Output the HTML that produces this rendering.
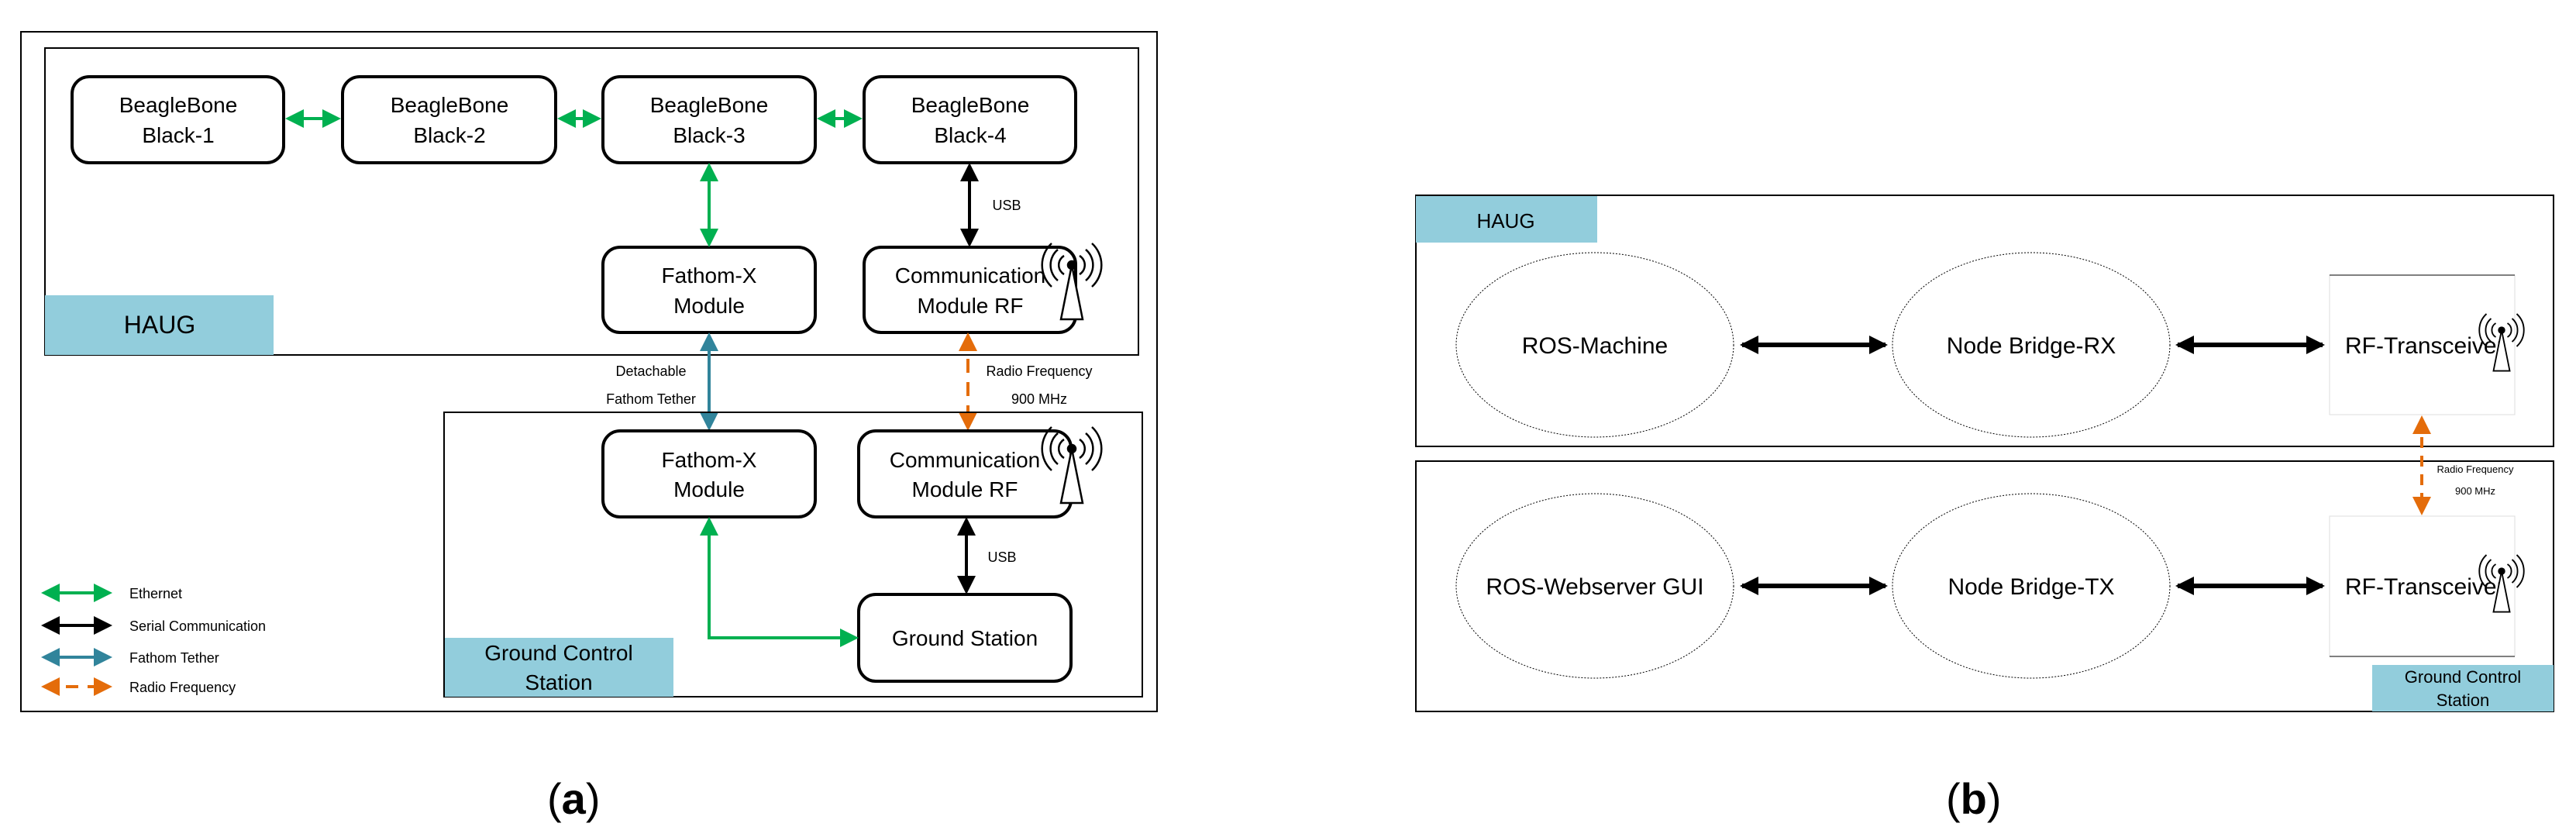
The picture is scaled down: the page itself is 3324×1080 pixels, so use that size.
<!DOCTYPE html>
<html><head><meta charset="utf-8"><style>
html,body{margin:0;padding:0;background:#fff}
svg{display:block}
text{font-family:"Liberation Sans",sans-serif;fill:#000}
</style></head><body>
<svg width="3324" height="1080" viewBox="0 0 3324 1080" xmlns="http://www.w3.org/2000/svg">
<defs>
<marker id="g" markerWidth="6" markerHeight="6" refX="5" refY="3" orient="auto-start-reverse" markerUnits="strokeWidth"><path d="M0,0L6,3L0,6z" fill="#00b050"/></marker>
<marker id="k" markerWidth="6" markerHeight="6" refX="5" refY="3" orient="auto-start-reverse" markerUnits="strokeWidth"><path d="M0,0L6,3L0,6z" fill="#000"/></marker>
<marker id="b" markerWidth="6" markerHeight="6" refX="5" refY="3" orient="auto-start-reverse" markerUnits="strokeWidth"><path d="M0,0L6,3L0,6z" fill="#31849b"/></marker>
<marker id="o" markerWidth="6" markerHeight="6" refX="5" refY="3" orient="auto-start-reverse" markerUnits="strokeWidth"><path d="M0,0L6,3L0,6z" fill="#e46c0a"/></marker>
<marker id="kb" markerWidth="4" markerHeight="4" refX="3.5" refY="2" orient="auto-start-reverse" markerUnits="strokeWidth"><path d="M0,0L4,2L0,4z" fill="#000"/></marker>
<g id="ant" fill="none" stroke="#000" stroke-width="2.5">
<path d="M-10,-12A14,14 0 0 0 -10,12M10,-12A14,14 0 0 1 10,12"/>
<path d="M-18,-20A26,26 0 0 0 -18,20M18,-20A26,26 0 0 1 18,20"/>
<path d="M-26,-28A38,38 0 0 0 -26,28M26,-28A38,38 0 0 1 26,28"/>
<circle cx="0" cy="0" r="5" fill="#000"/>
<path d="M0,0L-14,70L14,70Z" fill="#fff"/>
</g>
</defs>

<!-- Panel (a) -->
<rect x="27" y="41" width="1466" height="877" fill="none" stroke="#000" stroke-width="2"/>
<rect x="58" y="62" width="1411" height="396" fill="none" stroke="#000" stroke-width="2"/>
<rect x="58" y="381" width="295" height="77" fill="#92cddc"/>
<text x="206" y="430" font-size="32" text-anchor="middle">HAUG</text>

<g fill="#fff" stroke="#000" stroke-width="4">
<rect x="93" y="99" width="273" height="111" rx="22"/>
<rect x="442" y="99" width="275" height="111" rx="22"/>
<rect x="778" y="99" width="274" height="111" rx="22"/>
<rect x="1115" y="99" width="273" height="111" rx="22"/>
<rect x="778" y="319" width="274" height="110" rx="22"/>
<rect x="1115" y="319" width="273" height="110" rx="22"/>
</g>
<g font-size="28" text-anchor="middle">
<text x="230" y="145">BeagleBone</text><text x="230" y="184">Black-1</text>
<text x="580" y="145">BeagleBone</text><text x="580" y="184">Black-2</text>
<text x="915" y="145">BeagleBone</text><text x="915" y="184">Black-3</text>
<text x="1252" y="145">BeagleBone</text><text x="1252" y="184">Black-4</text>
<text x="915" y="365">Fathom-X</text><text x="915" y="404">Module</text>
<text x="1252" y="365">Communication</text><text x="1252" y="404">Module RF</text>
</g>
<use href="#ant" x="1383" y="342"/>

<g stroke-width="4" fill="none">
<line x1="372" y1="153" x2="436" y2="153" stroke="#00b050" marker-start="url(#g)" marker-end="url(#g)"/>
<line x1="723" y1="153" x2="772" y2="153" stroke="#00b050" marker-start="url(#g)" marker-end="url(#g)"/>
<line x1="1058" y1="153" x2="1109" y2="153" stroke="#00b050" marker-start="url(#g)" marker-end="url(#g)"/>
<line x1="915" y1="214" x2="915" y2="315" stroke="#00b050" marker-start="url(#g)" marker-end="url(#g)"/>
<line x1="1251" y1="214" x2="1251" y2="315" stroke="#000" marker-start="url(#k)" marker-end="url(#k)"/>
<line x1="915" y1="433" x2="915" y2="552" stroke="#31849b" marker-start="url(#b)" marker-end="url(#b)"/>
<line x1="1249" y1="433" x2="1249" y2="552" stroke="#e46c0a" stroke-dasharray="18,12" marker-start="url(#o)" marker-end="url(#o)"/>
</g>
<text x="1299" y="271" font-size="18" text-anchor="middle">USB</text>
<g font-size="18" text-anchor="middle">
<text x="840" y="485">Detachable</text><text x="840" y="521">Fathom Tether</text>
<text x="1341" y="485">Radio Frequency</text><text x="1341" y="521">900 MHz</text>
</g>

<rect x="573" y="532" width="901" height="367" fill="none" stroke="#000" stroke-width="2"/>
<rect x="574" y="823" width="295" height="76" fill="#92cddc"/>
<g font-size="28" text-anchor="middle"><text x="721" y="852">Ground Control</text><text x="721" y="890">Station</text></g>
<g fill="#fff" stroke="#000" stroke-width="4">
<rect x="778" y="556" width="274" height="111" rx="22"/>
<rect x="1108" y="556" width="274" height="111" rx="22"/>
<rect x="1108" y="767" width="274" height="112" rx="22"/>
</g>
<g font-size="28" text-anchor="middle">
<text x="915" y="603">Fathom-X</text><text x="915" y="641">Module</text>
<text x="1245" y="603">Communication</text><text x="1245" y="641">Module RF</text>
<text x="1245" y="833">Ground Station</text>
</g>
<use href="#ant" x="1383" y="579"/>
<g stroke-width="4" fill="none">
<line x1="1247" y1="671" x2="1247" y2="763" stroke="#000" marker-start="url(#k)" marker-end="url(#k)"/>
<polyline points="915,671 915,823 1104,823" stroke="#00b050" marker-start="url(#g)" marker-end="url(#g)"/>
</g>
<text x="1293" y="725" font-size="18" text-anchor="middle">USB</text>

<!-- legend -->
<g stroke-width="4" fill="none">
<line x1="57" y1="765" x2="141" y2="765" stroke="#00b050" marker-start="url(#g)" marker-end="url(#g)"/>
<line x1="57" y1="807" x2="141" y2="807" stroke="#000" marker-start="url(#k)" marker-end="url(#k)"/>
<line x1="57" y1="848" x2="141" y2="848" stroke="#31849b" marker-start="url(#b)" marker-end="url(#b)"/>
<line x1="57" y1="886" x2="141" y2="886" stroke="#e46c0a" stroke-dasharray="16,12" marker-start="url(#o)" marker-end="url(#o)"/>
</g>
<g font-size="18"><text x="167" y="772">Ethernet</text><text x="167" y="814">Serial Communication</text><text x="167" y="855">Fathom Tether</text><text x="167" y="893">Radio Frequency</text></g>

<!-- Panel (b) -->
<rect x="1827" y="252" width="1468" height="324" fill="none" stroke="#000" stroke-width="2"/>
<rect x="1827" y="253" width="234" height="60" fill="#92cddc"/>
<text x="1943" y="294" font-size="26" text-anchor="middle">HAUG</text>
<g fill="none" stroke="#000" stroke-width="1" stroke-dasharray="2,2">
<ellipse cx="2058" cy="445" rx="179" ry="119"/>
<ellipse cx="2621" cy="445" rx="179" ry="119"/>
<ellipse cx="2058" cy="756" rx="179" ry="119"/>
<ellipse cx="2621" cy="756" rx="179" ry="119"/>
</g>
<g fill="none" stroke-width="1">
<path d="M3006,355H3245V535H3006Z" stroke="#ddd"/>
<line x1="3006" y1="355" x2="3245" y2="355" stroke="#000"/>
<path d="M3006,666H3245V847H3006Z" stroke="#ddd"/>
<line x1="3006" y1="847" x2="3245" y2="847" stroke="#000"/>
</g>
<g font-size="30" text-anchor="middle">
<text x="2058" y="456">ROS-Machine</text>
<text x="2621" y="456">Node Bridge-RX</text>
<text x="2058" y="767">ROS-Webserver GUI</text>
<text x="2621" y="767">Node Bridge-TX</text>
</g>
<g font-size="30"><text x="3026" y="456">RF-Transceiver</text><text x="3026" y="767">RF-Transceiver</text></g>
<g transform="translate(3228,426) scale(0.75)"><use href="#ant"/></g>
<g transform="translate(3228,737) scale(0.75)"><use href="#ant"/></g>
<g stroke="#000" stroke-width="6" fill="none">
<line x1="2248" y1="445" x2="2433" y2="445" marker-start="url(#kb)" marker-end="url(#kb)"/>
<line x1="2810" y1="445" x2="2997" y2="445" marker-start="url(#kb)" marker-end="url(#kb)"/>
<line x1="2248" y1="756" x2="2433" y2="756" marker-start="url(#kb)" marker-end="url(#kb)"/>
<line x1="2810" y1="756" x2="2997" y2="756" marker-start="url(#kb)" marker-end="url(#kb)"/>
</g>
<rect x="1827" y="595" width="1468" height="323" fill="none" stroke="#000" stroke-width="2"/>
<rect x="3061" y="858" width="234" height="60" fill="#92cddc"/>
<g font-size="22" text-anchor="middle"><text x="3178" y="881">Ground Control</text><text x="3178" y="911">Station</text></g>
<line x1="3125" y1="540" x2="3125" y2="661" stroke="#e46c0a" stroke-width="4" stroke-dasharray="14,10" marker-start="url(#o)" marker-end="url(#o)"/>
<g font-size="13" text-anchor="middle"><text x="3194" y="610">Radio Frequency</text><text x="3194" y="638">900 MHz</text></g>

<!-- captions -->
<g font-family="Liberation Serif,serif" font-size="56">
<text x="706" y="1050">(<tspan font-weight="bold">a</tspan>)</text>
<text x="2511" y="1050">(<tspan font-weight="bold">b</tspan>)</text>
</g>
</svg>
</body></html>
